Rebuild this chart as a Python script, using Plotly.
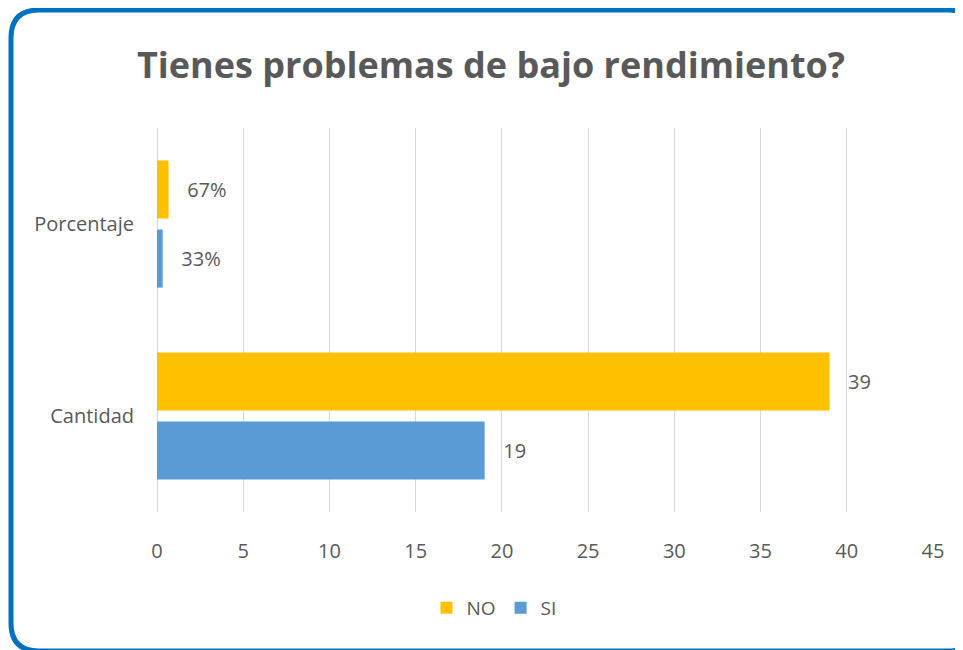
import plotly.graph_objects as go

# ---- data ----
categories = ["Cantidad", "Porcentaje"]
series_names = ["NO", "SI"]
no_values = [39, 0.67]
si_values = [19, 0.33]
no_labels = ["39", "67%"]
si_labels = ["19", "33%"]
x_ticks = [0, 5, 10, 15, 20, 25, 30, 35, 40, 45]

# page has an 8px body margin; figure coordinates = page - 8
OFF = 8
W, H = 963 - OFF, 650 - OFF
ML, MR, MT, MB = 157 - OFF, 963 - 933, 128 - OFF, 650 - 512
PW, PH = W - ML - MR, H - MT - MB

def px(x):
    return (x - OFF - ML) / PW

def py(y):
    return (H - MB - (y - OFF)) / PH

TEXT = "#595959"
FONT = "Open Sans"

fig = go.Figure()
fig.add_trace(go.Bar(
    y=categories, x=si_values, name=series_names[1], orientation="h",
    marker=dict(color="#5B9BD5", line=dict(width=0)),
    text=si_labels, texttemplate="   %{text}", textposition="outside",
    textfont=dict(color=TEXT, size=20, family=FONT), cliponaxis=False,
    legendrank=2,
))
fig.add_trace(go.Bar(
    y=categories, x=no_values, name=series_names[0], orientation="h",
    marker=dict(color="#FFC000", line=dict(width=0)),
    text=no_labels, texttemplate="   %{text}", textposition="outside",
    textfont=dict(color=TEXT, size=20, family=FONT), cliponaxis=False,
    legendrank=1,
))

# rounded frame (page coordinates)
L, T, R, B, r = 11, 10, 976, 651, 28
path = (
    f"M {px(L+r)} {py(T)} L {px(R-r)} {py(T)} Q {px(R)} {py(T)} {px(R)} {py(T+r)} "
    f"L {px(R)} {py(B-r)} Q {px(R)} {py(B)} {px(R-r)} {py(B)} "
    f"L {px(L+r)} {py(B)} Q {px(L)} {py(B)} {px(L)} {py(B-r)} "
    f"L {px(L)} {py(T+r)} Q {px(L)} {py(T)} {px(L+r)} {py(T)} Z"
)
fig.add_shape(type="path", path=path, xref="paper", yref="paper",
              line=dict(color="#0070C0", width=5), layer="above")

fig.update_layout(
    width=W, height=H,
    margin=dict(l=ML, r=MR, t=MT, b=MB),
    paper_bgcolor="white", plot_bgcolor="white",
    barmode="group", bargap=0.28, bargroupgap=0.16,
    title=dict(text="<b>Tienes problemas de bajo rendimiento?</b>",
               x=(491 - OFF) / W, xref="container", xanchor="center",
               y=1 - (65 - OFF) / H, yanchor="middle",
               font=dict(family=FONT, size=36, color=TEXT)),
    font=dict(family=FONT, color=TEXT),
    xaxis=dict(range=[0, 45], tickvals=x_ticks, showgrid=True, gridcolor="#D9D9D9",
               gridwidth=1, zeroline=True, zerolinecolor="#D9D9D9", zerolinewidth=1,
               showline=False, ticks="", ticklabelstandoff=25,
               tickfont=dict(size=20, color=TEXT, family=FONT)),
    yaxis=dict(type="category", categoryarray=categories, range=[-0.5, 1.5],
               showgrid=False, zeroline=False, showline=False, ticks="",
               ticklabelstandoff=22,
               tickfont=dict(size=20, color=TEXT, family=FONT)),
    legend=dict(orientation="h", x=(494 - OFF) / W, xref="container", xanchor="center",
                y=1 - (608 - OFF) / H, yref="container", yanchor="middle",
                font=dict(size=19, color=TEXT, family=FONT),
                itemwidth=30, traceorder="normal"),
    showlegend=True,
)

fig.write_html("out.html")
